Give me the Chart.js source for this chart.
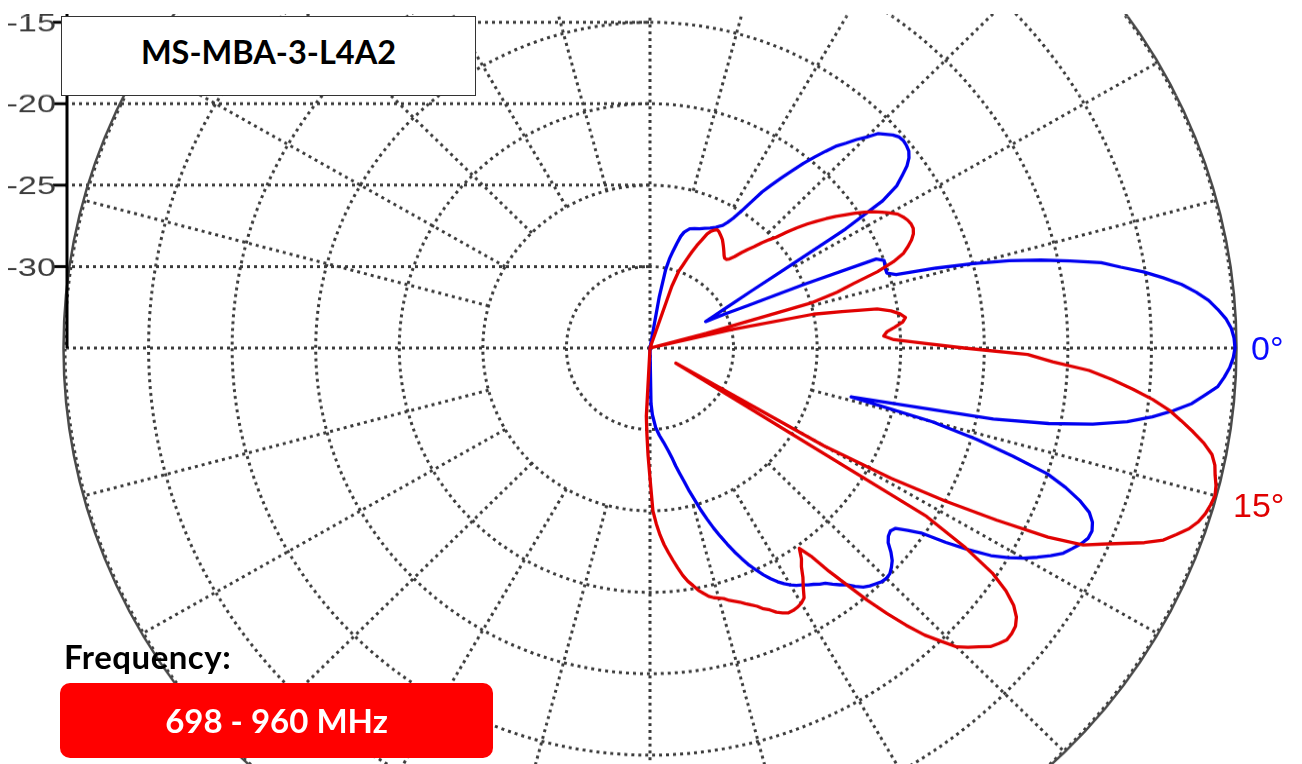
<!DOCTYPE html>
<html>
<head>
<meta charset="utf-8">
<script src="https://cdn.jsdelivr.net/npm/chart.js@4.4.1/dist/chart.umd.min.js"></script>
<style>
  html, body { margin:0; padding:0; background:#fff; }
  body { width:1302px; height:764px; overflow:hidden; position:relative; font-family:'Liberation Sans', Arial, sans-serif; }
  #plot { position:absolute; left:0; top:14px; width:1302px; height:750px; overflow:hidden; }
  #wrap { position:absolute; left:0; top:-251px; width:1300px; height:1170px; transform-origin:650px 585px; transform:scaleY(0.9744); }
  .title-box { position:absolute; left:61px; top:16px; width:413px; height:78px; background:#fff; border:1.5px solid #333; }
  .title-box span { position:absolute; left:0; right:0; top:18px; text-align:center; font:bold 32.5px Lato, 'Open Sans', sans-serif; line-height:33px; color:#000; }
  .freq { position:absolute; left:64px; top:640px; font:bold 33px Lato, 'Open Sans', sans-serif; letter-spacing:0.5px; line-height:33px; color:#000; }
  .band { position:absolute; left:60px; top:683px; width:433px; height:75px; background:#ff0000; border-radius:10px; }
  .band span { position:absolute; left:0; right:0; top:21px; text-align:center; font:bold 33px Lato, 'Open Sans', sans-serif; line-height:33px; color:#fff; }
  .tilt { position:absolute; font:34px 'Liberation Sans', Arial, sans-serif; line-height:34px; }
</style>
</head>
<body>
<div id="plot">
  <div id="wrap"><canvas id="pattern" width="1300" height="1170"></canvas></div>
</div>
<div class="title-box"><span>MS-MBA-3-L4A2</span></div>
<div class="freq">Frequency:</div>
<div class="band"><span>698 - 960 MHz</span></div>
<div class="tilt" style="left:1251px; top:331px; color:#0a0aff;">0°</div>
<div class="tilt" style="left:1233px; top:488px; color:#e00000;">15°</div>

<script>
// elevation angle in degrees (negative = above horizon), gain in dB
const blueAngles = [-81,-80,-79,-78,-77,-76,-75,-74,-73,-72,-70,-68,-66,-64,-62,-60,-59,-58,-57,-56,-55,-54,-53,-52,-51,-50,-49,-48,-47,-46,-45,-44,-43,-42,-41,-40,-39,-38,-37,-36,-35,-34,-33,-32,-31,-30,-29,-28,-27,-26,-25,-24,-23,-22,-21,-20,-19,-18,-17,-16,-15,-14,-13,-12,-11,-10,-9,-8,-7,-6,-5,-4,-3,-2,-1,0,1,2,3,4,5,6,7,8,9,10,11,12,13,14,15,16,17,18,19,20,21,22,23,24,25,26,27,28,29,30,31,32,33,34,35,36,37,38,39,40,41,42,43,44,45,46,47,48,49,50,51,52,53,54,55,56,57,58,59,60,61,62,63,64,65,66,67,68,69,70,71,72,73,74,75,76,77,78,79,80,82,84,86,88,89,90];
const blueDb = [-35,-31.8,-30.1,-29.4,-28.9,-28.4,-27.9,-27.6,-27.45,-27.3,-27.2,-27.1,-26.95,-26.8,-26.6,-26.3,-26.0,-25.6,-25.0,-24.2,-23.3,-22.6,-21.9,-21.2,-20.4,-19.7,-19.0,-18.3,-17.8,-17.2,-16.7,-16.05,-15.75,-15.45,-15.25,-15.2,-15.25,-15.35,-15.6,-16.0,-16.6,-17.2,-18.4,-21.2,-25.6,-28.0,-29.3,-30.2,-30.8,-31.3,-30.0,-28.6,-25.0,-20.4,-20.0,-20.05,-20.1,-20.1,-19.6,-17.2,-15.0,-12.85,-11.0,-9.3,-7.5,-6.4,-5.1,-4.0,-2.95,-2.15,-1.45,-0.95,-0.5,-0.2,-0.05,0,-0.1,-0.3,-0.6,-0.95,-1.7,-2.4,-3.45,-4.65,-6.1,-8.1,-10.7,-14.0,-19.5,-22.6,-17.5,-14.7,-12.3,-10.0,-8.7,-7.65,-6.85,-6.45,-6.27,-6.3,-6.55,-6.9,-7.25,-7.85,-8.5,-9.2,-10.0,-10.95,-12.25,-13.65,-15.2,-15.95,-16.6,-16.75,-16.65,-16.4,-15.9,-15.5,-15.25,-15.05,-15.0,-15.05,-15.2,-15.35,-15.55,-15.9,-16.3,-16.55,-16.85,-17.15,-17.3,-17.5,-17.65,-17.85,-18.0,-18.2,-18.45,-18.75,-19.1,-19.5,-19.95,-20.4,-20.95,-21.5,-22.1,-22.7,-23.3,-23.95,-24.6,-25.3,-25.9,-26.55,-27.1,-27.6,-28.15,-28.55,-29.15,-29.6,-30.1,-30.9,-31.6,-35];

const redAngles = [-72,-71,-70,-69,-68,-67,-66,-65,-64,-63,-62,-61,-60,-59,-58,-57,-56,-55,-54,-53,-52,-51,-50,-49,-48,-47,-46,-45,-44,-43,-42,-41,-40,-39,-38,-37,-36,-35,-34,-33,-32,-31,-30,-29,-28,-27,-26,-25,-24,-23,-22,-21,-20,-19,-18,-17,-16,-15,-14,-13,-12,-11,-10,-9,-8,-7,-6,-5,-4,-3,-2,-1,0,1,2,3,4,5,6,7,8,9,10,11,12,13,14,15,16,17,18,19,20,21,22,23,24,25,26,27,28,29,30,31,32,33,34,35,36,37,38,39,40,41,42,43,44,45,46,47,48,49,50,51,52,53,54,55,56,57,58,59,60,61,62,63,64,65,66,67,68,69,70,71,72,73,74,75,76,77,78,79,80,81,82,83,84,85,86,87,88,89,90,91,92,93,94];
const redDb = [-35,-31.0,-30.0,-29.6,-29.1,-28.6,-28.1,-27.7,-27.2,-26.95,-26.8,-26.7,-26.75,-26.85,-26.95,-27.05,-27.2,-27.35,-27.5,-27.65,-27.8,-27.9,-27.9,-27.75,-27.45,-27.0,-26.6,-26.2,-25.7,-25.25,-24.8,-24.15,-23.5,-22.9,-22.35,-21.8,-21.25,-20.75,-20.2,-19.7,-19.2,-18.8,-18.4,-18.05,-17.85,-17.7,-17.62,-17.62,-17.75,-18.0,-18.35,-18.75,-19.5,-20.6,-22.2,-23.3,-25.0,-31.5,-35,-30.0,-25.0,-23.3,-21.2,-20.4,-19.9,-19.6,-19.8,-20.3,-20.8,-21.0,-20.4,-18.6,-16.2,-12.4,-10.9,-8.7,-7.3,-6.0,-4.75,-3.7,-2.9,-2.1,-1.35,-0.75,-0.45,-0.3,-0.1,0,-0.1,-0.25,-0.5,-0.9,-1.5,-2.1,-3.1,-4.3,-5.4,-6.4,-8.5,-11.7,-15.0,-18.5,-23.0,-33.2,-15.5,-12.5,-10.3,-9.0,-8.1,-7.55,-7.25,-7.15,-7.13,-7.35,-7.6,-8.1,-8.55,-9.05,-10.0,-10.9,-12.1,-13.4,-14.8,-16.3,-17.6,-19.0,-19.8,-19.2,-18.8,-18.2,-17.7,-17.1,-16.9,-16.8,-16.75,-16.75,-16.9,-17.1,-17.4,-17.6,-17.9,-18.1,-18.3,-18.5,-18.65,-18.8,-19.0,-19.1,-19.2,-19.35,-19.6,-19.85,-20.2,-20.5,-20.9,-21.4,-21.9,-22.4,-22.9,-23.5,-24.2,-25.0,-27.0,-28.4,-29.7,-30.8,-35];

const levelTicks = [-15, -20, -25, -30];
const spokeAngles = [0,15,30,45,60,75,90,105,120,135,150,165,180,195,210,225,240,255,270,285,300,315,330,345];
const degreeLabels = Array.from({ length: 360 }, (_, i) => i);

function toSeries(angles, values) {
  const out = new Array(360).fill(null);
  angles.forEach((a, i) => { out[(a + 360) % 360] = values[i]; });
  return out;
}

const GRID = '#3a3a3a';

// spokes, left level lines, outer rim and the dB axis
const polarGrid = {
  id: 'polarGrid',
  beforeDatasetsDraw(chart) {
    const r = chart.scales.r;
    const c = chart.ctx;
    c.save();
    c.strokeStyle = GRID;
    c.lineWidth = 3;
    c.setLineDash([3, 4]);
    spokeAngles.forEach(a => {
      const from = a % 90 === 0 ? r.min : -25;
      const p0 = r.getPointPositionForValue(a, from);
      const p1 = r.getPointPositionForValue(a, r.max);
      c.beginPath(); c.moveTo(p0.x, p0.y); c.lineTo(p1.x, p1.y); c.stroke();
    });
    const left = r.xCenter - r.drawingArea;
    levelTicks.forEach(v => {
      const y = r.yCenter - r.getDistanceFromCenterForValue(v);
      c.beginPath(); c.moveTo(left, y); c.lineTo(r.xCenter, y); c.stroke();
    });
    c.setLineDash([]);
    c.strokeStyle = '#4a4a4a';
    c.lineWidth = 2.5;
    c.beginPath(); c.arc(r.xCenter, r.yCenter, r.drawingArea + 1.5, 0, Math.PI * 2); c.stroke();

    // axis
    const ax = left + 2;
    c.strokeStyle = '#000';
    c.lineWidth = 3;
    c.beginPath(); c.moveTo(ax, r.yCenter); c.lineTo(ax, r.yCenter - r.drawingArea); c.stroke();
    c.fillStyle = '#3c3c3c';
    c.font = '26px "Liberation Sans", Arial, sans-serif';
    c.textAlign = 'right';
    c.textBaseline = 'middle';
    levelTicks.forEach(v => {
      const y = r.yCenter - r.getDistanceFromCenterForValue(v);
      c.beginPath(); c.moveTo(ax - 14, y); c.lineTo(ax, y); c.stroke();
      c.save();
      c.translate(ax - 11, y + 2);
      c.scale(1.32, 1);
      c.fillText(String(v), 0, 0);
      c.restore();
    });
    c.restore();
  }
};

new Chart(document.getElementById('pattern'), {
  type: 'radar',
  data: {
    labels: degreeLabels,
    datasets: [
      { label: '0°', data: toSeries(blueAngles, blueDb), borderColor: '#0000f0', order: 1 },
      { label: '15°', data: toSeries(redAngles, redDb), borderColor: '#e00000', order: 0 }
    ]
  },
  options: {
    responsive: false,
    animation: false,
    layout: { padding: { left: 65, right: 65 } },
    elements: {
      line: { borderWidth: 3.3, fill: false, tension: 0, borderJoinStyle: 'round' },
      point: { radius: 0, hoverRadius: 0 }
    },
    datasets: { radar: { spanGaps: true } },
    plugins: { legend: { display: false }, tooltip: { enabled: false } },
    scales: {
      r: {
        min: -35, max: 0, startAngle: 90,
        ticks: { display: false, stepSize: 5 },
        pointLabels: { display: false },
        angleLines: { display: false },
        grid: { circular: true, color: GRID, lineWidth: 3 },
        border: { dash: [3, 4] }
      }
    }
  },
  plugins: [polarGrid]
});
</script>
</body>
</html>
